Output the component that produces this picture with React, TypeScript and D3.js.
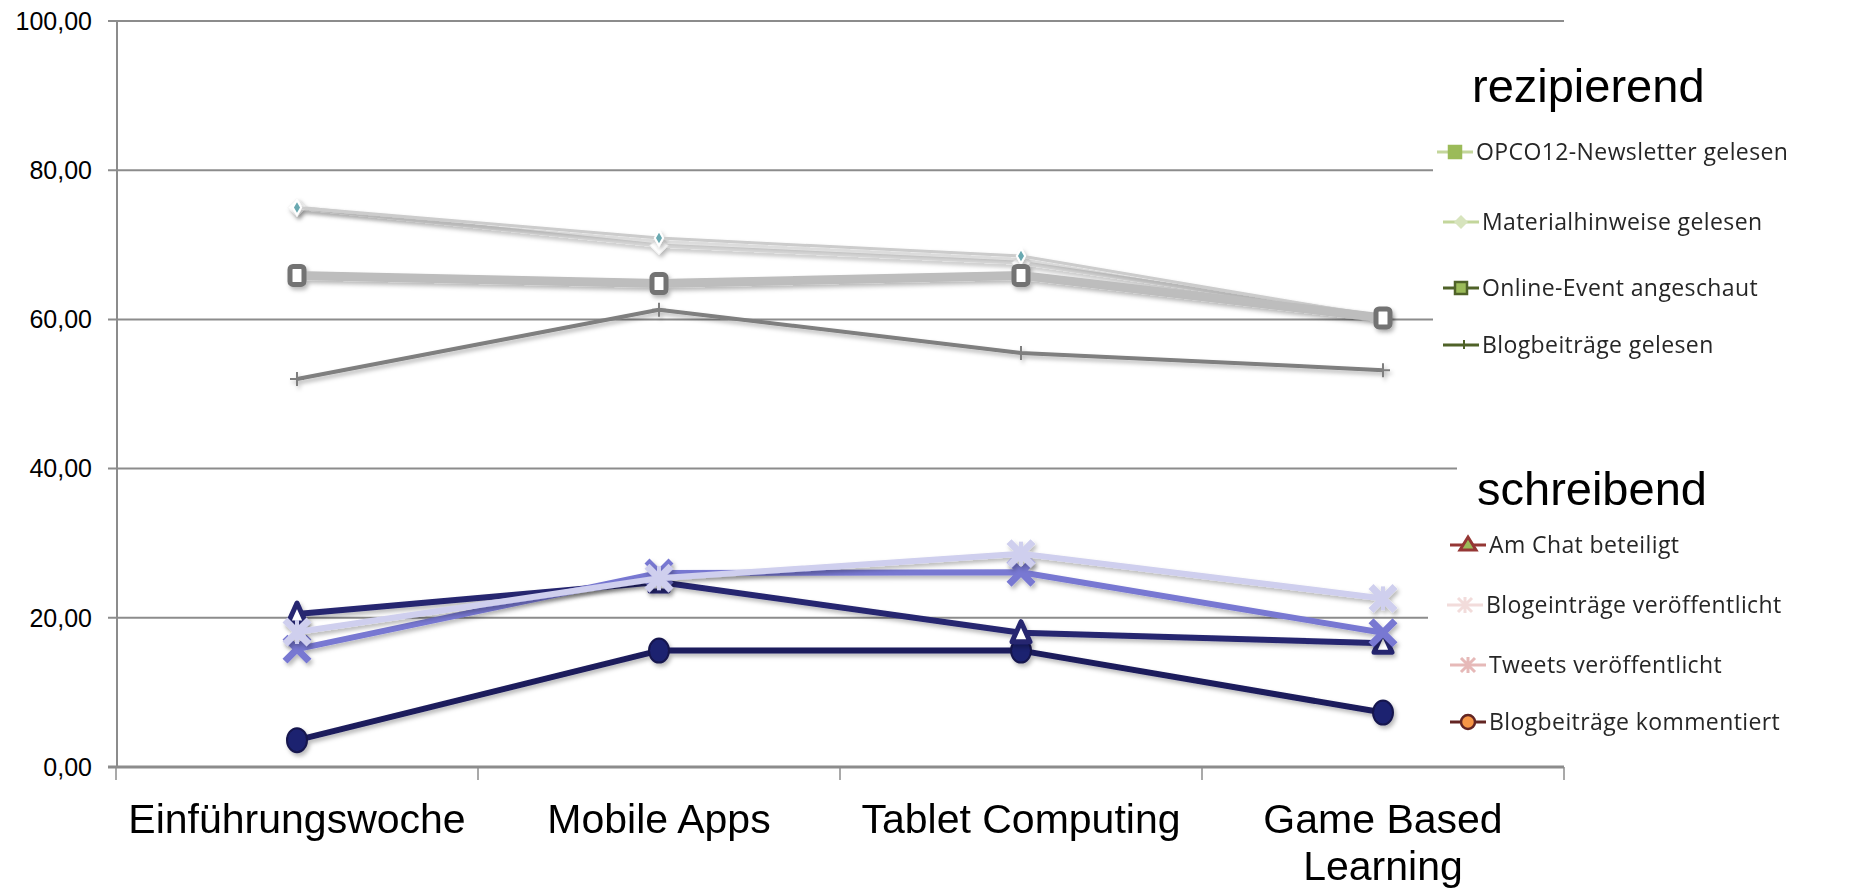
import * as d3 from 'd3';

const categories = ['Einführungswoche', 'Mobile Apps', 'Tablet Computing', 'Game Based Learning'];
const yTicks = [0, 20, 40, 60, 80, 100];

// rezipierend
const opcoNewsletter = [75.0, 69.9, 67.6, 60.4];
const materialhinweise = [75.0, 70.9, 68.5, 60.3];
const onlineEvent = [65.9, 64.8, 65.9, 60.2];
const blogGelesen = [52.0, 61.3, 55.5, 53.2];

// schreibend
const chatBeteiligt = [20.5, 24.8, 18.0, 16.6];
const blogeintraege = [18.1, 25.3, 28.6, 22.6];
const tweets = [15.8, 26.0, 26.1, 18.0];
const kommentiert = [3.6, 15.6, 15.6, 7.3];

const W = 1860;
const H = 892;
const AXIS = '#8c8c8c';

type Marker = 'square' | 'diamond' | 'plus' | 'triangle' | 'times' | 'star' | 'circle' | 'blank';

interface Series {
  values: number[];
  color: string;
  width: number;
  marker: Marker;
  mFill: string;
  mStroke: string;
  mSize: number;
}

const series: Series[] = [
  { values: opcoNewsletter, color: '#d6d6d6', width: 4, marker: 'blank', mFill: '#ffffff', mStroke: '#f2f2f2', mSize: 18 },
  { values: materialhinweise, color: '#cccccc', width: 3, marker: 'diamond', mFill: '#6aa9b1', mStroke: '#ffffff', mSize: 11 },
  { values: blogGelesen, color: '#7f7f7f', width: 4, marker: 'plus', mFill: '#7f7f7f', mStroke: '#7f7f7f', mSize: 14 },
  { values: onlineEvent, color: '#bdbdbd', width: 9, marker: 'square', mFill: '#ffffff', mStroke: '#737373', mSize: 22 },
  { values: kommentiert, color: '#1b1b5c', width: 6, marker: 'circle', mFill: '#1c2270', mStroke: '#15154d', mSize: 22 },
  { values: chatBeteiligt, color: '#26266f', width: 6, marker: 'triangle', mFill: '#ffffff', mStroke: '#26266f', mSize: 22 },
  { values: tweets, color: '#7878d2', width: 6, marker: 'times', mFill: '#7878d2', mStroke: '#7878d2', mSize: 24 },
  { values: blogeintraege, color: '#cfcfee', width: 6, marker: 'star', mFill: '#cfcfee', mStroke: '#cfcfee', mSize: 24 },
];

const x = d3.scaleBand<string>().domain(categories).range([116, 1564]);
const y = d3.scaleLinear().domain([0, 100]).range([767, 21]);
const cx = (c: string) => (x(c) ?? 0) + x.bandwidth() / 2;

const markerShape = (m: Marker, s: number, fill: string, stroke: string) => {
  const h = s / 2;
  switch (m) {
    case 'square':
      return <rect x={-h + 4} y={-h + 2} width={s - 8} height={s - 4} rx={3} fill={fill} stroke={stroke} strokeWidth={5} />;
    case 'blank':
      return <path d={`M0,${-h}L${h},0L0,${h}L${-h},0Z`} fill={fill} stroke={stroke} strokeWidth={1} />;
    case 'diamond':
      return <path d={d3.symbol(d3.symbolDiamond, s * s * 0.5)() || ''} fill={fill} stroke={stroke} strokeWidth={2} />;
    case 'plus':
      return <path d={`M${-h},0H${h}M0,${-h}V${h}`} stroke={stroke} strokeWidth={2} />;
    case 'circle':
      return <ellipse rx={h - 1} ry={h + 1} fill={fill} stroke={stroke} strokeWidth={2} />;
    case 'triangle':
      return <path d={`M0,${-h}L${h - 2},${h - 2}L${-h + 2},${h - 2}Z`} fill={fill} stroke={stroke} strokeWidth={5} strokeLinejoin="round" />;
    case 'times':
      return <path d={`M${-h},${-h}L${h},${h}M${h},${-h}L${-h},${h}`} stroke={stroke} strokeWidth={7} />;
    case 'star':
      return (
        <g stroke={stroke}>
          <path d={`M${-h},${-h}L${h},${h}M${h},${-h}L${-h},${h}`} strokeWidth={7} />
          <path d={`M0,${-h}V${h}`} strokeWidth={4} />
        </g>
      );
  }
};

const line = d3
  .line<number>()
  .x((_, i) => cx(categories[i]))
  .y((d) => y(d));

interface LegendItem {
  label: string;
  y: number;
  x0: number;
  kind: Marker | 'none';
  line: string;
  fill: string;
  stroke: string;
}

const legendTop: LegendItem[] = [
  { label: 'OPCO12-Newsletter gelesen', y: 152, x0: 1437, kind: 'square', line: '#c3d69b', fill: '#9bbb59', stroke: '#9bbb59' },
  { label: 'Materialhinweise gelesen', y: 222, x0: 1443, kind: 'diamond', line: '#c3d69b', fill: '#4f81bd', stroke: '#d7e4bd' },
  { label: 'Online-Event angeschaut', y: 288, x0: 1443, kind: 'square', line: '#4f6228', fill: '#9bbb59', stroke: '#4f6228' },
  { label: 'Blogbeiträge gelesen', y: 345, x0: 1443, kind: 'plus', line: '#4f6228', fill: '#4f6228', stroke: '#4f6228' },
];

const legendBottom: LegendItem[] = [
  { label: 'Am Chat beteiligt', y: 545, x0: 1450, kind: 'triangle', line: '#953735', fill: '#9bbb59', stroke: '#953735' },
  { label: 'Blogeinträge veröffentlicht', y: 605, x0: 1447, kind: 'star', line: '#f2dcdb', fill: '#f2dcdb', stroke: '#f2dcdb' },
  { label: 'Tweets veröffentlicht', y: 665, x0: 1450, kind: 'times', line: '#e6b9b8', fill: '#e6b9b8', stroke: '#e6b9b8' },
  { label: 'Blogbeiträge kommentiert', y: 722, x0: 1450, kind: 'circle', line: '#632523', fill: '#f79646', stroke: '#632523' },
];

const LegendRow = ({ it }: { it: LegendItem }) => {
  const w = 36;
  const mid = it.x0 + w / 2;
  let mk: any = null;
  if (it.kind === 'square') mk = <rect x={mid - 6} y={it.y - 6} width={12} height={12} fill={it.fill} stroke={it.stroke} strokeWidth={2.5} />;
  if (it.kind === 'diamond') mk = <path transform={`translate(${mid},${it.y})`} d="M0,-7L7,0L0,7L-7,0Z" fill={it.stroke} />;
  if (it.kind === 'plus') mk = <path d={`M${mid + 3},${it.y - 5}V${it.y + 4}`} stroke={it.stroke} strokeWidth={2} />;
  if (it.kind === 'triangle') mk = <path d={`M${mid},${it.y - 8}L${mid + 8},${it.y + 5}L${mid - 8},${it.y + 5}Z`} fill={it.fill} stroke={it.stroke} strokeWidth={3} />;
  if (it.kind === 'times' || it.kind === 'star')
    mk = <path d={`M${mid - 7},${it.y - 7}L${mid + 7},${it.y + 7}M${mid + 7},${it.y - 7}L${mid - 7},${it.y + 7}M${mid},${it.y - 8}V${it.y + 8}`} stroke={it.stroke} strokeWidth={3} />;
  if (it.kind === 'circle') mk = <circle cx={mid} cy={it.y} r={7} fill={it.fill} stroke={it.stroke} strokeWidth={2.5} />;
  return (
    <g>
      <line x1={it.x0} x2={it.x0 + w} y1={it.y} y2={it.y} stroke={it.line} strokeWidth={3} />
      {mk}
      <text x={it.x0 + w + 3} y={it.y} dy="0.35em" fontFamily="'Open Sans', sans-serif" fontSize={23} letterSpacing={0.4} fill="#262626">
        {it.label}
      </text>
    </g>
  );
};

export default function App() {
  return (
    <svg width={W} height={H} style={{ position: 'absolute', left: 0, top: 0, background: '#fff' }}>
      <defs>
        <filter id="shadow" x="-10%" y="-30%" width="120%" height="160%">
          <feDropShadow dx={2} dy={3} stdDeviation={2} floodColor="#000" floodOpacity={0.28} />
        </filter>
      </defs>
      <rect width={W} height={H} fill="#fff" />

      {/* gridlines and y axis */}
      {yTicks.map((t) => (
        <g key={t}>
          <line x1={108} x2={1564} y1={y(t)} y2={y(t)} stroke={AXIS} strokeWidth={t === 0 ? 3 : 2} />
          <text x={92} y={y(t)} dy="0.35em" textAnchor="end" fontFamily="'Liberation Sans', Arial, sans-serif" fontSize={25} fill="#000">
            {t.toFixed(2).replace('.', ',')}
          </text>
        </g>
      ))}
      <line x1={117} x2={117} y1={y(100)} y2={y(0)} stroke={AXIS} strokeWidth={2} />

      {/* x ticks */}
      {[...categories.map((c) => x(c) ?? 0), 1564].map((px, i) => (
        <line key={i} x1={px} x2={px} y1={y(0)} y2={y(0) + 13} stroke={AXIS} strokeWidth={1.5} />
      ))}

      {/* series */}
      {series.map((s, i) => (
        <g key={i} filter="url(#shadow)">
          <path d={line(s.values) || ''} fill="none" stroke={s.color} strokeWidth={s.width} strokeLinejoin="round" />
          {s.values.map((v, j) => (
            <g key={j} transform={`translate(${cx(categories[j])},${y(v)})`}>
              {markerShape(s.marker, s.mSize, s.mFill, s.mStroke)}
            </g>
          ))}
        </g>
      ))}

      {/* x labels */}
      {categories.map((c) => {
        const lines = c === 'Game Based Learning' ? ['Game Based', 'Learning'] : [c];
        return (
          <text key={c} x={cx(c)} y={833} textAnchor="middle" fontFamily="'Liberation Sans', Arial, sans-serif" fontSize={41} fill="#000">
            {lines.map((l, k) => (
              <tspan key={k} x={cx(c)} dy={k === 0 ? 0 : 47}>
                {l}
              </tspan>
            ))}
          </text>
        );
      })}

      {/* legend panels */}
      <rect x={1433} y={40} width={427} height={360} fill="#fff" />
      <rect x={1457} y={440} width={403} height={70} fill="#fff" />
      <rect x={1428} y={510} width={432} height={250} fill="#fff" />

      <text x={1472} y={102} fontFamily="'Liberation Sans', Arial, sans-serif" fontSize={47} fill="#000">
        rezipierend
      </text>
      {legendTop.map((it) => (
        <LegendRow key={it.label} it={it} />
      ))}
      <text x={1477} y={505} fontFamily="'Liberation Sans', Arial, sans-serif" fontSize={47} fill="#000">
        schreibend
      </text>
      {legendBottom.map((it) => (
        <LegendRow key={it.label} it={it} />
      ))}
    </svg>
  );
}
